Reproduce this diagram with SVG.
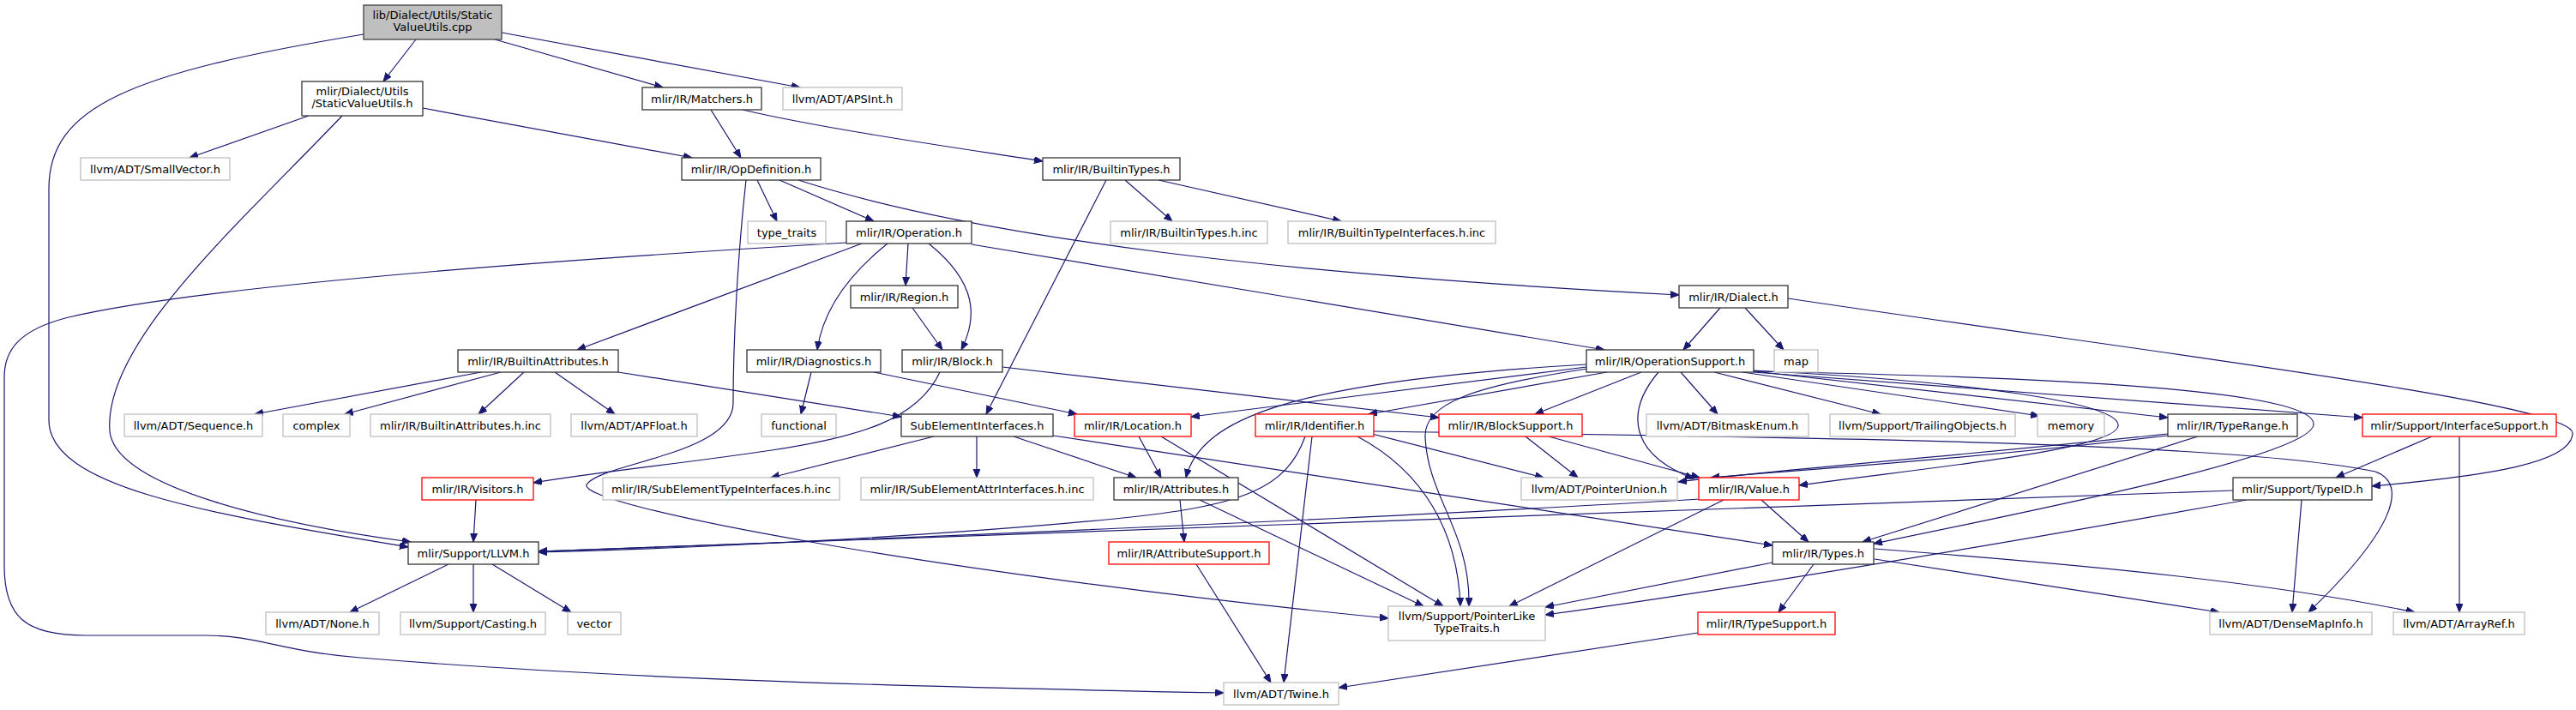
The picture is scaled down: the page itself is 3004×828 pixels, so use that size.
<svg xmlns="http://www.w3.org/2000/svg" width="3004" height="828" viewBox="0 0 3004 828">
<style>
text{font-family:"DejaVu Sans","Liberation Sans",sans-serif;font-size:13px;fill:#000;text-anchor:middle}
rect{fill:#fff;stroke-width:1.3}
.k rect{stroke:#333}
.g rect{stroke:#bfbfbf}
.r rect{stroke:#ff0000}
.root rect{fill:#bfbfbf;stroke:#404040}
#edges path{fill:none;stroke:#191970;stroke-width:1.2;marker-end:url(#ah)}
</style>
<defs>
<marker id="ah" markerUnits="userSpaceOnUse" markerWidth="12" markerHeight="10" refX="10" refY="4" orient="auto">
<path d="M0,0 L10,4 L0,8 z" fill="#191970" stroke="#191970" stroke-width="1"/>
</marker>
</defs>
<rect x="0" y="0" width="3004" height="828" style="fill:#fff;stroke:none"/>
<g id="edges">
<path d="M485 46 L447 95"/>
<path d="M577 46 L773 102"/>
<path d="M585 38 L933 102"/>
<path d="M424 40 C150 85 57 125 57 220 L57 490 C57 570 250 600 476 638"/>
<path d="M360 135 L221 184"/>
<path d="M493 126 L807 184"/>
<path d="M399 135 C280 260 120 400 128 503 C135 570 330 612 479 632"/>
<path d="M829 128 L864 184"/>
<path d="M866 128 C960 150 1100 170 1216 188"/>
<path d="M883 210 L906 258"/>
<path d="M909 210 L1019 258"/>
<path d="M931 210 C1150 280 1500 320 1958 344"/>
<path d="M870 210 C860 300 855 400 855 470 C855 530 700 540 684 565 C672 590 1100 670 1619 721"/>
<path d="M1290 210 L1150 483"/>
<path d="M1312 210 L1367 258"/>
<path d="M1351 210 L1564 258"/>
<path d="M1005 284 L673 408"/>
<path d="M1035 284 C990 320 960 360 953 408"/>
<path d="M1059 284 L1056 333"/>
<path d="M1083 284 C1140 330 1140 370 1121 408"/>
<path d="M1133 285 L1871 408"/>
<path d="M987 283 C700 300 250 330 80 370 C20 385 5 410 5 440 L5 660 C5 720 30 741 100 741 L240 741 C300 741 330 760 420 767 C700 790 1000 800 1427 808"/>
<path d="M1064 359 L1099 408"/>
<path d="M2035 359 L2080 408"/>
<path d="M2006 359 L1963 408"/>
<path d="M2085 348 C2500 410 3000 470 3000 505 C3000 540 2900 555 2766 567"/>
<path d="M561 434 L297 483"/>
<path d="M584 434 L402 483"/>
<path d="M611 434 L558 483"/>
<path d="M647 434 L717 483"/>
<path d="M721 434 L1051 486"/>
<path d="M946 434 L934 483"/>
<path d="M1019 434 L1256 483"/>
<path d="M1096 434 C1070 490 1000 510 900 525 C800 540 700 550 622 563"/>
<path d="M1169 428 L1678 487"/>
<path d="M1850 425 C1500 445 1400 490 1383 557"/>
<path d="M1850 428 L1389 486"/>
<path d="M1851 430 C1720 450 1660 470 1662 510 C1665 580 1715 620 1713 707"/>
<path d="M1874 434 L1596 483"/>
<path d="M1914 434 L1790 483"/>
<path d="M1934 434 C1895 480 1900 530 1975 558"/>
<path d="M1960 434 L2003 483"/>
<path d="M1999 434 L2193 483"/>
<path d="M2032 434 L2378 485"/>
<path d="M2045 433 L2528 487"/>
<path d="M2045 434 L2755 487"/>
<path d="M2045 433 C2400 440 2700 455 2698 495 C2696 530 2400 590 2185 634"/>
<path d="M2045 432 C2300 445 2475 470 2470 497 C2465 525 2250 545 2098 566"/>
<path d="M1089 509 L899 557"/>
<path d="M1139 509 L1139 557"/>
<path d="M1182 509 L1325 557"/>
<path d="M1228 508 L2067 636"/>
<path d="M1328 509 L1354 557"/>
<path d="M1354 509 L1683 707"/>
<path d="M1530 509 L1497 796"/>
<path d="M1522 509 C1500 570 1450 590 1300 605 C1100 625 800 640 628 644"/>
<path d="M1583 509 C1660 550 1700 620 1703 707"/>
<path d="M1600 506 L1800 557"/>
<path d="M1602 503 C2100 510 2600 515 2770 550 C2810 565 2790 620 2692 714"/>
<path d="M1779 509 L1840 557"/>
<path d="M1806 509 L1982 557"/>
<path d="M2528 506 C2300 530 2050 550 1957 562"/>
<path d="M2528 508 C2300 535 2100 548 1995 557"/>
<path d="M2563 509 L2172 632"/>
<path d="M2836 509 L2724 557"/>
<path d="M2868 509 L2868 714"/>
<path d="M1376 583 L1381 632"/>
<path d="M1399 583 L1660 707"/>
<path d="M2054 583 L2109 632"/>
<path d="M1982 582 C1600 605 1000 630 628 643"/>
<path d="M2010 583 L1760 707"/>
<path d="M2604 572 L628 643"/>
<path d="M2620 583 C2300 640 2000 690 1802 717"/>
<path d="M2684 583 L2673 714"/>
<path d="M555 583 L552 632"/>
<path d="M523 658 L408 714"/>
<path d="M552 658 L552 714"/>
<path d="M574 658 L666 714"/>
<path d="M1395 658 L1482 796"/>
<path d="M2115 658 L2074 714"/>
<path d="M2186 652 L2588 714"/>
<path d="M2186 640 C2450 660 2650 680 2816 714"/>
<path d="M2067 656 L1802 708"/>
<path d="M1980 738 L1561 802"/>
</g>
<g id="n_root" class="root"><rect x="424" y="6" width="161" height="40"/><text x="504.5" y="21.5">lib/Dialect/Utils/Static</text><text x="504.5" y="36">ValueUtils.cpp</text></g>
<g id="n_svuh" class="k"><rect x="352" y="95" width="141" height="40"/><text x="422.5" y="111">mlir/Dialect/Utils</text><text x="422.5" y="125">/StaticValueUtils.h</text></g>
<g id="n_matchers" class="k"><rect x="749" y="102" width="139" height="26"/><text x="818.5" y="120">mlir/IR/Matchers.h</text></g>
<g id="n_apsint" class="g"><rect x="913" y="102" width="139" height="26"/><text x="982.5" y="120">llvm/ADT/APSInt.h</text></g>
<g id="n_smallvec" class="g"><rect x="94" y="184" width="174" height="26"/><text x="181" y="202">llvm/ADT/SmallVector.h</text></g>
<g id="n_opdef" class="k"><rect x="795" y="184" width="162" height="26"/><text x="876" y="202">mlir/IR/OpDefinition.h</text></g>
<g id="n_builtintypes" class="k"><rect x="1216" y="184" width="160" height="26"/><text x="1296" y="202">mlir/IR/BuiltinTypes.h</text></g>
<g id="n_typetraits" class="g"><rect x="872" y="258" width="91" height="26"/><text x="917.5" y="276">type_traits</text></g>
<g id="n_operation" class="k"><rect x="987" y="258" width="146" height="26"/><text x="1060" y="276">mlir/IR/Operation.h</text></g>
<g id="n_btinc" class="g"><rect x="1295" y="258" width="183" height="26"/><text x="1386.5" y="276">mlir/IR/BuiltinTypes.h.inc</text></g>
<g id="n_btiinc" class="g"><rect x="1502" y="258" width="242" height="26"/><text x="1623" y="276">mlir/IR/BuiltinTypeInterfaces.h.inc</text></g>
<g id="n_region" class="k"><rect x="992" y="333" width="125" height="26"/><text x="1054.5" y="351">mlir/IR/Region.h</text></g>
<g id="n_dialect" class="k"><rect x="1958" y="333" width="127" height="26"/><text x="2021.5" y="351">mlir/IR/Dialect.h</text></g>
<g id="n_battr" class="k"><rect x="534" y="408" width="187" height="26"/><text x="627.5" y="426">mlir/IR/BuiltinAttributes.h</text></g>
<g id="n_diag" class="k"><rect x="871" y="408" width="156" height="26"/><text x="949" y="426">mlir/IR/Diagnostics.h</text></g>
<g id="n_block" class="k"><rect x="1052" y="408" width="117" height="26"/><text x="1110.5" y="426">mlir/IR/Block.h</text></g>
<g id="n_opsupport" class="k"><rect x="1850" y="408" width="195" height="26"/><text x="1947.5" y="426">mlir/IR/OperationSupport.h</text></g>
<g id="n_map" class="g"><rect x="2069" y="408" width="51" height="26"/><text x="2094.5" y="426">map</text></g>
<g id="n_sequence" class="g"><rect x="145" y="483" width="161" height="26"/><text x="225.5" y="501">llvm/ADT/Sequence.h</text></g>
<g id="n_complex" class="g"><rect x="330" y="483" width="78" height="26"/><text x="369" y="501">complex</text></g>
<g id="n_bainc" class="g"><rect x="432" y="483" width="210" height="26"/><text x="537" y="501">mlir/IR/BuiltinAttributes.h.inc</text></g>
<g id="n_apfloat" class="g"><rect x="666" y="483" width="147" height="26"/><text x="739.5" y="501">llvm/ADT/APFloat.h</text></g>
<g id="n_functional" class="g"><rect x="888" y="483" width="87" height="26"/><text x="931.5" y="501">functional</text></g>
<g id="n_subel" class="k"><rect x="1051" y="483" width="177" height="26"/><text x="1139.5" y="501">SubElementInterfaces.h</text></g>
<g id="n_location" class="r"><rect x="1253" y="483" width="136" height="26"/><text x="1321" y="501">mlir/IR/Location.h</text></g>
<g id="n_identifier" class="r"><rect x="1464" y="483" width="138" height="26"/><text x="1533" y="501">mlir/IR/Identifier.h</text></g>
<g id="n_blocksupport" class="r"><rect x="1678" y="483" width="167" height="26"/><text x="1761.5" y="501">mlir/IR/BlockSupport.h</text></g>
<g id="n_bitmask" class="g"><rect x="1920" y="483" width="189" height="26"/><text x="2014.5" y="501">llvm/ADT/BitmaskEnum.h</text></g>
<g id="n_trailing" class="g"><rect x="2134" y="483" width="216" height="26"/><text x="2242" y="501">llvm/Support/TrailingObjects.h</text></g>
<g id="n_memory" class="g"><rect x="2376" y="483" width="78" height="26"/><text x="2415" y="501">memory</text></g>
<g id="n_typerange" class="k"><rect x="2528" y="483" width="151" height="26"/><text x="2603.5" y="501">mlir/IR/TypeRange.h</text></g>
<g id="n_ifsupport" class="r"><rect x="2755" y="483" width="226" height="26"/><text x="2868" y="501">mlir/Support/InterfaceSupport.h</text></g>
<g id="n_visitors" class="r"><rect x="492" y="557" width="130" height="26"/><text x="557" y="575">mlir/IR/Visitors.h</text></g>
<g id="n_setinc" class="g"><rect x="703" y="557" width="276" height="26"/><text x="841" y="575">mlir/IR/SubElementTypeInterfaces.h.inc</text></g>
<g id="n_seainc" class="g"><rect x="1004" y="557" width="271" height="26"/><text x="1139.5" y="575">mlir/IR/SubElementAttrInterfaces.h.inc</text></g>
<g id="n_attributes" class="k"><rect x="1299" y="557" width="145" height="26"/><text x="1371.5" y="575">mlir/IR/Attributes.h</text></g>
<g id="n_ptrunion" class="g"><rect x="1774" y="557" width="182" height="26"/><text x="1865" y="575">llvm/ADT/PointerUnion.h</text></g>
<g id="n_value" class="r"><rect x="1981" y="557" width="117" height="26"/><text x="2039.5" y="575">mlir/IR/Value.h</text></g>
<g id="n_typeid" class="k"><rect x="2604" y="557" width="162" height="26"/><text x="2685" y="575">mlir/Support/TypeID.h</text></g>
<g id="n_llvmh" class="k"><rect x="476" y="632" width="152" height="26"/><text x="552" y="650">mlir/Support/LLVM.h</text></g>
<g id="n_attrsupport" class="r"><rect x="1293" y="632" width="187" height="26"/><text x="1386.5" y="650">mlir/IR/AttributeSupport.h</text></g>
<g id="n_types" class="k"><rect x="2067" y="632" width="118" height="26"/><text x="2126" y="650">mlir/IR/Types.h</text></g>
<g id="n_none" class="g"><rect x="310" y="714" width="132" height="26"/><text x="376" y="732">llvm/ADT/None.h</text></g>
<g id="n_casting" class="g"><rect x="467" y="714" width="169" height="26"/><text x="551.5" y="732">llvm/Support/Casting.h</text></g>
<g id="n_vector" class="g"><rect x="662" y="714" width="62" height="26"/><text x="693" y="732">vector</text></g>
<g id="n_ptrlike" class="g"><rect x="1619" y="707" width="183" height="40"/><text x="1710.5" y="723">llvm/Support/PointerLike</text><text x="1710.5" y="737">TypeTraits.h</text></g>
<g id="n_typesupport" class="r"><rect x="1980" y="714" width="160" height="26"/><text x="2060" y="732">mlir/IR/TypeSupport.h</text></g>
<g id="n_densemap" class="g"><rect x="2577" y="714" width="189" height="26"/><text x="2671.5" y="732">llvm/ADT/DenseMapInfo.h</text></g>
<g id="n_arrayref" class="g"><rect x="2791" y="714" width="153" height="26"/><text x="2867.5" y="732">llvm/ADT/ArrayRef.h</text></g>
<g id="n_twine" class="g"><rect x="1427" y="796" width="134" height="26"/><text x="1494" y="814">llvm/ADT/Twine.h</text></g>
</svg>
